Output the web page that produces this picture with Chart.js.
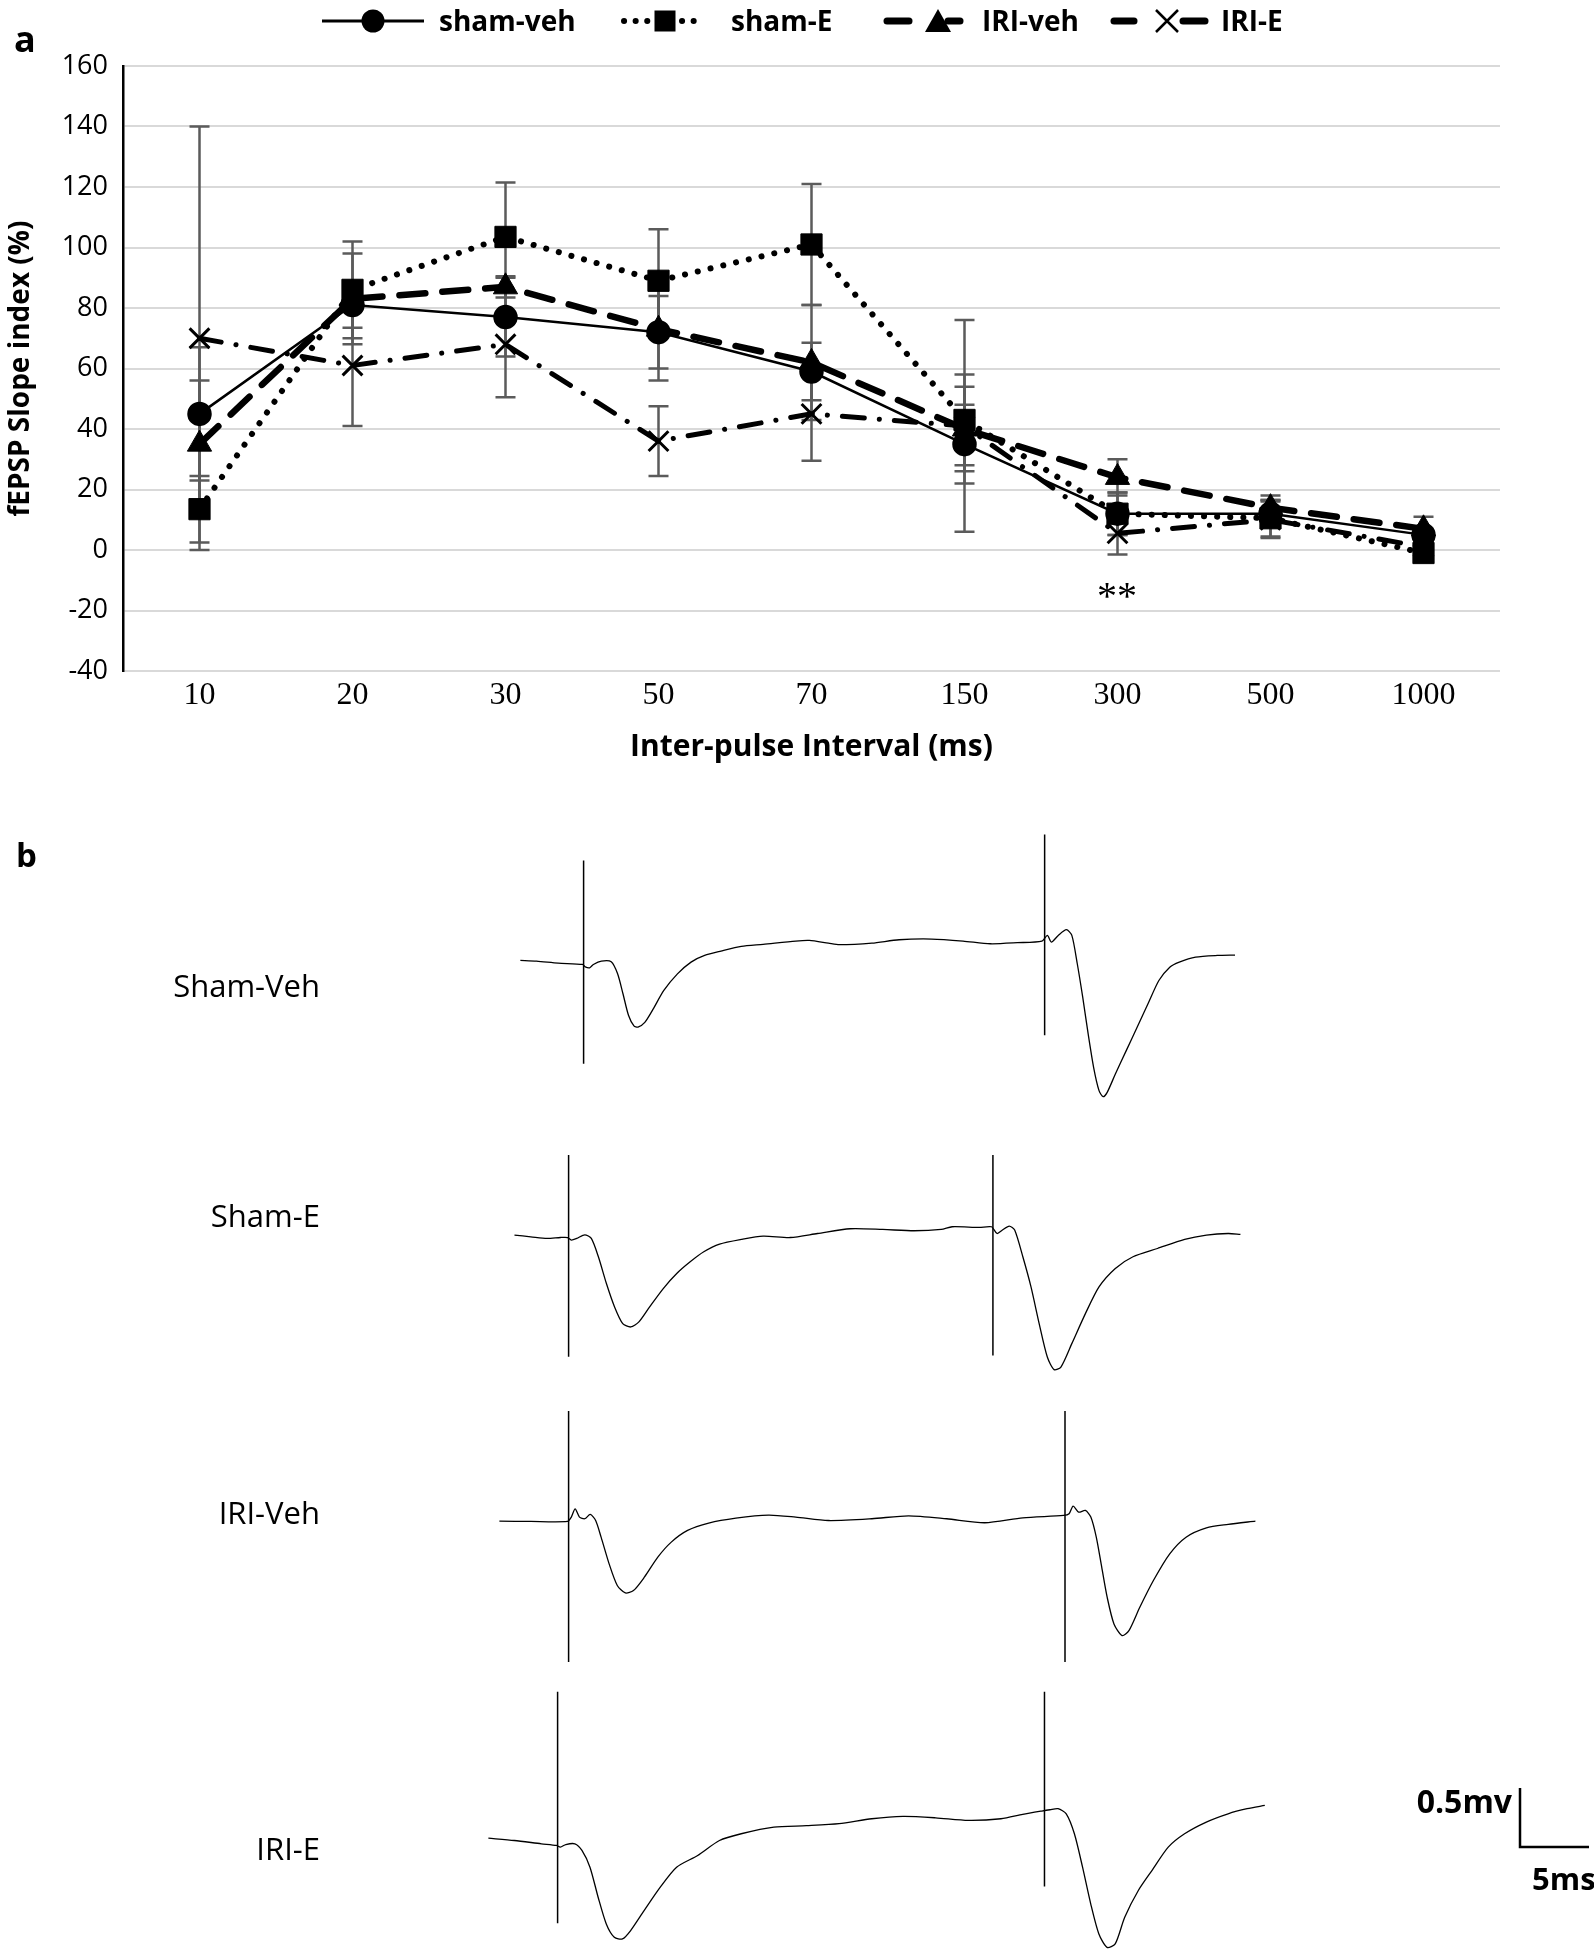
<!DOCTYPE html>
<html>
<head>
<meta charset="utf-8">
<title>fEPSP slope index and traces</title>
<script src="https://cdn.jsdelivr.net/npm/chart.js@4.4.0/dist/chart.umd.min.js"></script>
<style>
  html, body { margin: 0; padding: 0; background: #fff; }
  body { width: 1594px; height: 1949px; position: relative; overflow: hidden; }
  canvas { position: absolute; }
  #overlay { position: absolute; left: 0; top: 0; pointer-events: none; }
</style>
</head>
<body>
<canvas id="ppf" width="1594" height="800" style="left:0;top:0"></canvas>

<svg id="overlay" width="1594" height="1949" xmlns="http://www.w3.org/2000/svg">
  <!-- panel labels -->
  <text x="14" y="52" font-family="Open Sans" font-weight="bold" font-size="36">a</text>
  <text x="16" y="867" font-family="Open Sans" font-weight="bold" font-size="33">b</text>

  <!-- legend -->
  <g font-family="Open Sans" font-weight="bold" font-size="28" fill="#000">
    <line x1="322" y1="21" x2="424" y2="21" stroke="#000" stroke-width="3"/>
    <circle cx="373" cy="21" r="11.5"/>
    <text x="439" y="31">sham-veh</text>

    <line x1="624" y1="21" x2="698" y2="21" stroke="#000" stroke-width="6" stroke-linecap="round" stroke-dasharray="0.1 11.5"/>
    <rect x="654.5" y="10.5" width="21" height="21"/>
    <text x="731" y="31">sham-E</text>

    <line x1="887" y1="21" x2="909" y2="21" stroke="#000" stroke-width="7" stroke-linecap="round"/>
    <line x1="948" y1="21" x2="960" y2="21" stroke="#000" stroke-width="7" stroke-linecap="round"/>
    <polygon points="938,9 951,32 925,32"/>
    <text x="982" y="31">IRI-veh</text>

    <line x1="1114" y1="21" x2="1134" y2="21" stroke="#000" stroke-width="7" stroke-linecap="round"/>
    <line x1="1183" y1="21" x2="1205" y2="21" stroke="#000" stroke-width="7" stroke-linecap="round"/>
    <path d="M1156,10 L1178,32 M1178,10 L1156,32" stroke="#000" stroke-width="2.5" fill="none"/>
    <text x="1221" y="31">IRI-E</text>
  </g>

  <!-- significance mark -->
  <text x="1117" y="609" text-anchor="middle" font-family="Liberation Serif" font-size="40">**</text>

  <!-- trace labels -->
  <g font-family="Open Sans" font-size="31" fill="#000" text-anchor="end">
    <text x="320" y="997">Sham-Veh</text>
    <text x="320" y="1227">Sham-E</text>
    <text x="320" y="1524">IRI-Veh</text>
    <text x="320" y="1860">IRI-E</text>
  </g>

  <!-- scale bar -->
  <polyline points="1520,1788 1520,1847 1589,1847" fill="none" stroke="#000" stroke-width="2.5"/>
  <text x="1512" y="1813" text-anchor="end" font-family="Open Sans" font-weight="bold" font-size="32">0.5mv</text>
  <text x="1532" y="1890" font-family="Open Sans" font-weight="bold" font-size="31">5ms</text>
</svg>

<script>
// Paired-pulse data (panel a)
const intervals = ['10', '20', '30', '50', '70', '150', '300', '500', '1000'];
const yMin = -40;
const yMax = 160;
const yStep = 20;

const shamVeh = [45, 81, 77, 72, 59, 35, 12, 12, 5];
const shamE = [13.5, 86, 103.5, 89, 101, 43, 12, 10.5, -1];
const iriVeh = [35, 83, 87, 73, 62, 40, 24, 14, 7];
const iriE = [70, 61, 68, 36, 45, 41, 5.5, 10, 1];

const shamVehErr = [22, 7.5, 13, 12, 9.5, 13, 7, 4.5, 2];
const shamEErr = [11, 16, 18, 17, 20, 15, 7, 6, 2];
const iriVehErr = [21, 15, 3.5, 17, 19, 14, 6, 4, 4];
const iriEErr = [70, 20, 17.5, 11.5, 15.5, 35, 7, 6, 2];

// Example recordings (panel b): [time ms, voltage mV]
const shamVehTrace = [[-4.65,0.034],[-3.46,0.028],[-1.87,0.011],[-0.08,0],[0.12,-0.02],[0.44,-0.028],[0.72,0],[1.31,0.028],[2.03,0.023],[2.5,-0.079],[2.9,-0.25],[3.3,-0.43],[3.7,-0.52],[4.0,-0.53],[4.5,-0.49],[5.1,-0.38],[5.9,-0.22],[6.9,-0.08],[7.9,0.02],[8.9,0.076],[10.1,0.113],[11.6,0.153],[13.2,0.17],[15.6,0.198],[16.6,0.203],[18.0,0.18],[18.8,0.167],[21.2,0.18],[23.2,0.209],[25.6,0.215],[27.9,0.198],[29.9,0.175],[31.9,0.184],[33.7,0.198],[34.1,0.246],[34.4,0.189],[34.9,0.246],[35.5,0.294],[35.9,0.246],[36.3,0.006],[36.7,-0.277],[37.1,-0.588],[37.5,-0.87],[37.9,-1.068],[38.2,-1.119],[38.5,-1.082],[39.1,-0.927],[39.9,-0.729],[40.7,-0.531],[41.5,-0.333],[42.3,-0.136],[43.1,-0.023],[43.8,0.02],[45.0,0.062],[46.6,0.076],[47.9,0.079]];
const shamVehStim = [[0, 0.88, -0.84], [33.9, 1.10, -0.60]];

const shamETrace = [[-3.98,0.028],[-2.78,0.014],[-1.59,0],[-0.6,0.008],[-0.08,0.008],[0.2,-0.014],[0.6,0],[1.19,0.031],[1.67,0],[2.19,-0.155],[2.78,-0.381],[3.38,-0.579],[3.98,-0.72],[4.57,-0.749],[5.17,-0.706],[5.96,-0.579],[6.96,-0.424],[7.95,-0.297],[8.94,-0.198],[9.94,-0.113],[11.1,-0.048],[12.7,-0.008],[14.3,0.02],[16.3,0.008],[18.3,0.042],[20.7,0.082],[23.1,0.076],[25.4,0.065],[27.4,0.076],[28.2,0.099],[30.2,0.093],[31.1,0.099],[31.5,0.042],[31.9,0.071],[32.4,0.105],[32.8,0.071],[33.4,-0.155],[34.0,-0.41],[34.6,-0.72],[35.2,-1.003],[35.7,-1.11],[36.2,-1.088],[37.0,-0.89],[38.0,-0.636],[39.0,-0.41],[40.2,-0.254],[41.5,-0.155],[43.3,-0.085],[45.3,-0.008],[46.9,0.028],[48.5,0.042],[49.4,0.034]];
const shamEStim = [[0, 0.706, -1.0], [31.2, 0.706, -0.99]];

const iriVehTrace = [[-5.09,0.003],[-2.78,0],[-0.08,0],[0.2,0.037],[0.48,0.107],[0.8,0.037],[1.19,0.023],[1.59,0.059],[1.99,0.008],[2.39,-0.133],[2.98,-0.359],[3.58,-0.542],[4.17,-0.605],[4.77,-0.585],[5.57,-0.472],[6.56,-0.302],[7.55,-0.175],[8.75,-0.076],[10.3,-0.014],[12.3,0.028],[14.7,0.054],[16.7,0.037],[19.1,0.008],[22.3,0.023],[25.0,0.048],[27.8,0.023],[30.6,-0.011],[33.4,0.031],[36.4,0.051],[36.8,0.065],[37.1,0.13],[37.5,0.079],[38.0,0.093],[38.4,0.037],[38.8,-0.133],[39.2,-0.387],[39.6,-0.641],[40.1,-0.867],[40.7,-0.966],[41.2,-0.924],[42.0,-0.726],[43.0,-0.5],[44.2,-0.274],[45.4,-0.133],[46.9,-0.054],[48.5,-0.025],[50.5,0.003]];
const iriVehStim = [[0, 0.935, -1.19], [36.5, 0.935, -1.19]];

const iriETrace = [[-5.09,0.062],[-3.18,0.042],[-1.19,0.014],[-0.08,0],[0.2,-0.014],[0.6,0.008],[1.27,0.014],[1.79,-0.042],[2.38,-0.184],[2.98,-0.438],[3.58,-0.664],[4.17,-0.777],[4.77,-0.791],[5.37,-0.72],[6.36,-0.551],[7.55,-0.353],[8.75,-0.184],[10.3,-0.085],[11.9,0.042],[13.5,0.099],[15.9,0.155],[18.3,0.167],[20.7,0.184],[23.1,0.226],[25.4,0.246],[27.8,0.234],[30.2,0.212],[32.6,0.226],[34.2,0.263],[35.6,0.291],[36.2,0.302],[36.8,0.311],[37.4,0.268],[38.0,0.099],[38.6,-0.184],[39.2,-0.494],[39.8,-0.749],[40.4,-0.862],[41.0,-0.833],[41.7,-0.607],[42.7,-0.381],[43.7,-0.212],[44.9,-0.014],[46.1,0.099],[47.7,0.198],[49.3,0.268],[50.7,0.311],[52.0,0.339]];
const iriEStim = [[0, 1.30, -0.658], [35.8, 1.30, -0.347]];

// Draw vertical error bars with caps under the series
const errorBars = {
  id: 'errorBars',
  beforeDatasetsDraw(chart) {
    const ctx = chart.ctx;
    const yScale = chart.scales.y;
    ctx.save();
    ctx.strokeStyle = '#5b5b5b';
    ctx.lineWidth = 2.5;
    chart.data.datasets.forEach((ds, i) => {
      const meta = chart.getDatasetMeta(i);
      meta.data.forEach((pt, j) => {
        const top = yScale.getPixelForValue(ds.data[j] + ds.errors[j]);
        const bot = yScale.getPixelForValue(ds.data[j] - ds.errors[j]);
        ctx.beginPath();
        ctx.moveTo(pt.x, top); ctx.lineTo(pt.x, bot);
        ctx.moveTo(pt.x - 10, top); ctx.lineTo(pt.x + 10, top);
        ctx.moveTo(pt.x - 10, bot); ctx.lineTo(pt.x + 10, bot);
        ctx.stroke();
      });
    });
    ctx.restore();
  }
};

new Chart(document.getElementById('ppf'), {
  type: 'line',
  data: {
    labels: intervals,
    datasets: [
      {
        label: 'sham-veh', data: shamVeh, errors: shamVehErr,
        borderColor: '#000', borderWidth: 2.5,
        pointStyle: 'circle', pointRadius: 11, pointBackgroundColor: '#000', pointBorderColor: '#000'
      },
      {
        label: 'sham-E', data: shamE, errors: shamEErr,
        borderColor: '#000', borderWidth: 6, borderDash: [0.1, 13], borderCapStyle: 'round',
        pointStyle: 'rect', pointRadius: 15, pointBackgroundColor: '#000', pointBorderColor: '#000', pointBorderWidth: 1
      },
      {
        label: 'IRI-veh', data: iriVeh, errors: iriVehErr,
        borderColor: '#000', borderWidth: 6.5, borderDash: [26, 17], borderCapStyle: 'round',
        pointStyle: 'triangle', pointRadius: 14, pointBackgroundColor: '#000', pointBorderColor: '#000', pointBorderWidth: 1
      },
      {
        label: 'IRI-E', data: iriE, errors: iriEErr,
        borderColor: '#000', borderWidth: 5, borderDash: [22, 15, 0.1, 15], borderCapStyle: 'round',
        pointStyle: 'crossRot', pointRadius: 14, pointBorderColor: '#000', pointBorderWidth: 3
      }
    ]
  },
  options: {
    responsive: false,
    animation: false,
    layout: { padding: { top: 66, right: 94, left: 0, bottom: 0 } },
    elements: { line: { tension: 0 } },
    plugins: { legend: { display: false }, tooltip: { enabled: false } },
    scales: {
      x: {
        offset: true,
        grid: { display: false, drawTicks: false },
        border: { display: false },
        ticks: { color: '#000', padding: 5, font: { family: 'Liberation Serif', size: 32 } },
        title: {
          display: true, text: 'Inter-pulse Interval (ms)', color: '#000',
          font: { family: 'Open Sans', weight: 'bold', size: 30 },
          padding: { top: 0, bottom: 35 }
        },
        afterFit: scale => { scale.height = 129; }
      },
      y: {
        min: yMin, max: yMax,
        grid: { color: '#d9d9d9', lineWidth: 2, drawTicks: false },
        border: { display: true, color: '#000', width: 2.5 },
        ticks: { stepSize: yStep, color: '#000', padding: 15, font: { family: 'Open Sans', size: 27 } },
        title: {
          display: true, text: 'fEPSP Slope index (%)', color: '#000',
          font: { family: 'Open Sans', weight: 'bold', size: 28 },
          padding: { top: 4, bottom: 0 }
        },
        afterFit: scale => { scale.width = 123; }
      }
    }
  },
  plugins: [errorBars]
});

// Trace panels: same ms and mV scale for all four (13.6 px/ms, 118 px/mV)
const tMin = -6, tMax = 54;
const vMin = -1.35, vMax = 1.4;
const pxPerMs = 13.6, pxPerMv = 118;

function drawTrace(trace, stim, originX, originY) {
  const canvas = document.createElement('canvas');
  canvas.width = Math.round((tMax - tMin) * pxPerMs);
  canvas.height = Math.round((vMax - vMin) * pxPerMv);
  canvas.style.left = (originX + tMin * pxPerMs) + 'px';
  canvas.style.top = (originY - vMax * pxPerMv) + 'px';
  document.body.insertBefore(canvas, document.getElementById('overlay'));

  const datasets = [{
    data: trace.map(p => ({ x: p[0], y: p[1] })),
    borderColor: '#000', borderWidth: 1.3, tension: 0.25, pointRadius: 0
  }];
  stim.forEach(s => {
    datasets.push({
      data: [{ x: s[0], y: s[1] }, { x: s[0], y: s[2] }],
      borderColor: '#000', borderWidth: 1.5, tension: 0, pointRadius: 0
    });
  });

  new Chart(canvas, {
    type: 'line',
    data: { datasets: datasets },
    options: {
      responsive: false,
      animation: false,
      plugins: { legend: { display: false }, tooltip: { enabled: false } },
      scales: {
        x: { type: 'linear', display: false, min: tMin, max: tMax },
        y: { type: 'linear', display: false, min: vMin, max: vMax }
      }
    }
  });
}

drawTrace(shamVehTrace, shamVehStim, 583.5, 964);
drawTrace(shamETrace, shamEStim, 569, 1238);
drawTrace(iriVehTrace, iriVehStim, 569, 1521);
drawTrace(iriETrace, iriEStim, 558, 1845);
</script>
</body>
</html>
